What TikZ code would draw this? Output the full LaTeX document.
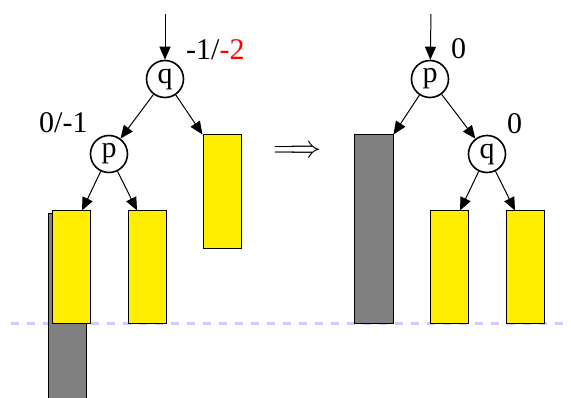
\documentclass[tikz,border=0pt]{standalone}
\usepackage{fix-cm}
\usepackage{fontspec}
\setmainfont{Liberation Serif}
\usepackage{tikz}
\usetikzlibrary{arrows.meta}
\definecolor{boxyellow}{RGB}{255,238,0}
\definecolor{boxgray}{RGB}{128,128,128}
\definecolor{levelblue}{RGB}{204,204,255}

\begin{document}
\begin{tikzpicture}[x=1pt, y=-1pt,
  knot/.style={circle, draw=black, line width=1.6pt, inner sep=0pt,
    minimum size=37pt, font=\fontsize{30}{34}\selectfont},
  ybox/.style={rectangle, draw=black, line width=1pt, fill=boxyellow,
    minimum width=38pt, minimum height=113pt, inner sep=0pt},
  gbox/.style={rectangle, draw=black, line width=1pt, fill=boxgray,
    minimum width=38pt, inner sep=0pt},
  lab/.style={font=\fontsize{30}{34}\selectfont, inner sep=0pt, anchor=base west},
  arr/.style={-{Triangle[length=13pt,width=11pt]}, line width=1pt, black},
  level/.style={draw=levelblue, line width=3pt, dash pattern=on 8pt off 8pt}
]
\useasboundingbox (0,0) rectangle (571,398);
\coordinate (lv0) at (11,324);
\coordinate (lv1) at (571,324);
\draw[level] (lv0) -- (lv1);
% before
\coordinate (in1) at (165,14);
\node[knot] (q1) at (165,79)  {q};
\node[knot] (p1) at (109,154) {p};
\node[lab]  (bq1) at (186,60)  {-1/\textcolor{red}{-2}};
\node[lab]  (bp1) at (39,133)  {0/-1};
\node[gbox, minimum height=186pt] (g1) at (67.5,307) {};
\node[ybox] (a1) at (71,267.5)  {};
\node[ybox] (b1) at (147,267.5) {};
\node[ybox, minimum height=114pt] (c1) at (222,192) {};
\draw[arr] (in1) -- (q1);
\draw[arr] (q1) -- (p1);
\draw[arr] (q1) -- (c1.north west);
\draw[arr] (p1) -- ([xshift=11pt]a1.north);
\draw[arr] (p1) -- ([xshift=-10pt]b1.north);
\node[font=\fontsize{31}{36}\selectfont, inner sep=0pt] (rot) at (297.5,152) {$\Longrightarrow$};
% after
\coordinate (in2) at (431,14);
\node[knot] (p2) at (430,79)  {p};
\node[knot] (q2) at (487,154) {q};
\node[lab]  (bp2) at (451,59)  {0};
\node[lab]  (bq2) at (507,134) {0};
\node[gbox, minimum width=39pt, minimum height=189pt] (g2) at (373.5,229.5) {};
\node[ybox] (b2) at (449,267.5) {};
\node[ybox] (c2) at (525,267.5) {};
\draw[arr] (in2) -- (p2);
\draw[arr] (p2) -- (g2.north east);
\draw[arr] (p2) -- (q2);
\draw[arr] (q2) -- ([xshift=11pt]b2.north);
\draw[arr] (q2) -- ([xshift=-10pt]c2.north);
\end{tikzpicture}
\end{document}
